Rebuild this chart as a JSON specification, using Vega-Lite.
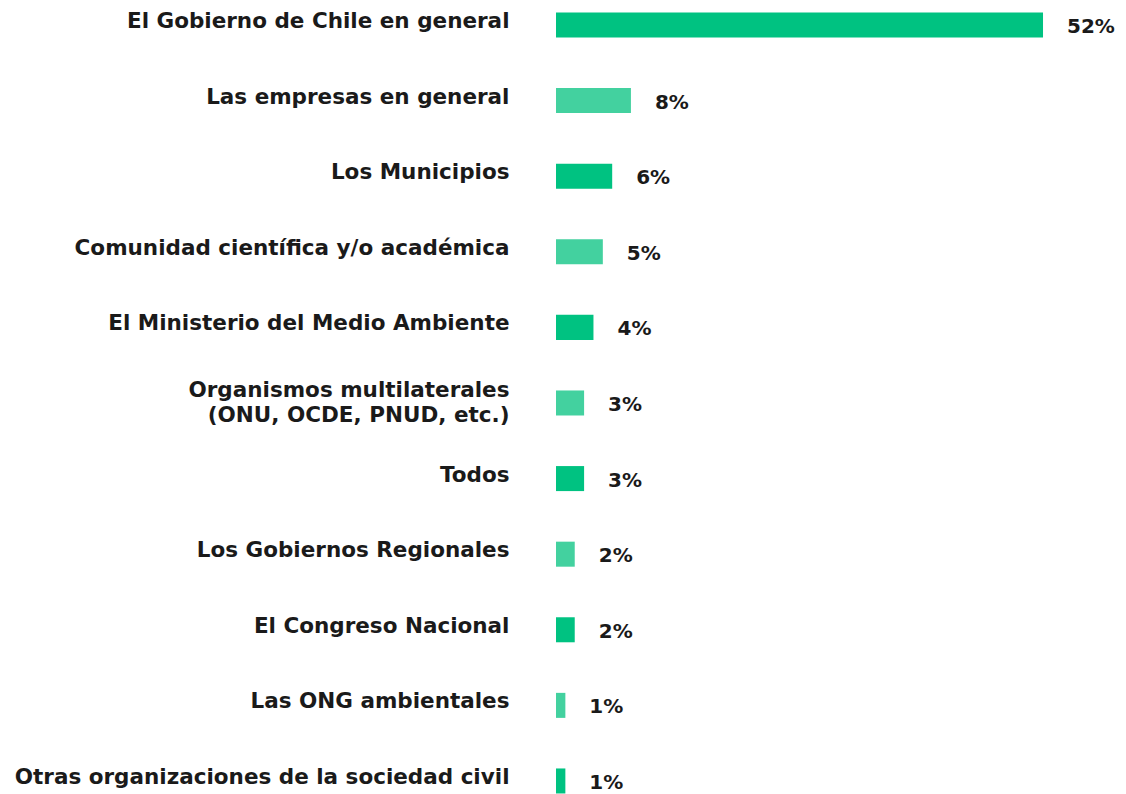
{
  "$schema": "https://vega.github.io/schema/vega-lite/v6.json",
  "autosize": "none",
  "padding": {"left": 556, "top": 0, "right": 0, "bottom": 0},
  "width": 570,
  "height": 794,
  "background": "white",
  "config": {"view": {"stroke": null}, "font": "DejaVu Sans"},
  "data": {
    "values": [
      {"actor": "El Gobierno de Chile en general", "valor": 0.52},
      {"actor": "Las empresas en general", "valor": 0.08},
      {"actor": "Los Municipios", "valor": 0.06},
      {"actor": "Comunidad científica y/o académica", "valor": 0.05},
      {"actor": "El Ministerio del Medio Ambiente", "valor": 0.04},
      {"actor": "Organismos multilaterales|(ONU, OCDE, PNUD, etc.)", "valor": 0.03},
      {"actor": "Todos", "valor": 0.03},
      {"actor": "Los Gobiernos Regionales", "valor": 0.02},
      {"actor": "El Congreso Nacional", "valor": 0.02},
      {"actor": "Las ONG ambientales", "valor": 0.01},
      {"actor": "Otras organizaciones de la sociedad civil", "valor": 0.01}
    ]
  },
  "encoding": {
    "y": {
      "field": "actor",
      "type": "nominal",
      "sort": null,
      "title": null,
      "scale": {"paddingInner": 0.669, "paddingOuter": 0.086, "align": 0.96},
      "axis": {
        "domain": false,
        "ticks": false,
        "tickSize": 0,
        "labelPadding": 47,
        "labelFont": "DejaVu Sans",
        "labelFontWeight": "bold",
        "labelFontSize": 21.5,
        "labelColor": "#1a1a1a",
        "labelLimit": 600,
        "labelLineHeight": 25,
        "labelOffset": {"condition": {"test": "indexof(datum.value, '|') >= 0", "value": -12}, "value": -3},
        "labelExpr": "split(datum.label, '|')"
      }
    },
    "x": {
      "field": "valor",
      "type": "quantitative",
      "scale": {"domain": [0, 0.6086], "nice": false, "zero": true},
      "axis": null
    }
  },
  "layer": [
    {
      "mark": {"type": "bar"},
      "encoding": {
        "color": {
          "field": "actor",
          "type": "nominal",
          "sort": null,
          "legend": null,
          "scale": {
            "range": ["#00C281", "#43D19F", "#00C281", "#43D19F", "#00C281", "#43D19F", "#00C281", "#43D19F", "#00C281", "#43D19F", "#00C281"]
          }
        }
      }
    },
    {
      "mark": {"type": "text", "align": "left", "baseline": "middle", "dx": 24, "dy": 2, "font": "DejaVu Sans", "fontWeight": "bold", "fontSize": 20, "color": "#1a1a1a"},
      "encoding": {
        "text": {"field": "valor", "type": "quantitative", "format": ".0%"}
      }
    }
  ]
}
